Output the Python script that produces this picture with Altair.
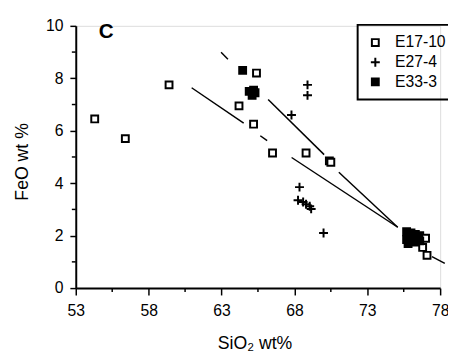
import altair as alt
import pandas as pd

# ---- data ----
e17_x = [54.3, 56.4, 59.4, 65.4, 64.2, 65.2, 66.5, 68.8, 70.4, 70.5, 76.6, 77.0, 76.8, 77.1]
e17_y = [6.45, 5.7, 7.75, 8.2, 6.95, 6.25, 5.15, 5.15, 4.85, 4.8, 2.0, 1.9, 1.55, 1.25]

e27_x = [68.9, 68.9, 67.8, 68.35, 68.25, 68.6, 68.8, 69.05, 69.15, 70.0]
e27_y = [7.75, 7.35, 6.6, 3.85, 3.35, 3.28, 3.2, 3.12, 3.02, 2.1]

e33_x = [64.45, 64.9, 65.2, 65.1, 65.3, 75.7, 76.0, 76.3, 76.5, 75.7, 76.0, 76.3, 75.8, 76.6]
e33_y = [8.3, 7.5, 7.55, 7.35, 7.45, 2.15, 2.1, 2.05, 1.95, 1.85, 1.8, 1.75, 1.7, 1.8]

series_names = ["E17-10", "E27-4", "E33-3"]

# mixing lines (segments, broken around symbols as in the original)
seg_x1 = [60.95, 65.66, 67.81, 62.97, 66.2, 71.05, 77.44]
seg_y1 = [7.64, 5.81, 4.98, 8.99, 7.19, 4.42, 1.20]
seg_x2 = [64.52, 66.13, 75.09, 63.44, 70.04, 75.09, 78.32]
seg_y2 = [6.29, 5.62, 2.32, 8.73, 5.09, 2.32, 0.94]

x_major = [53, 58, 63, 68, 73, 78]
x_minor = [55.5, 60.5, 65.5, 70.5, 75.5]
y_major = [0, 2, 4, 6, 8, 10]
y_minor = [1, 3, 5, 7, 9]

panel_label = ["C"]

# ---- tables ----
pts = pd.DataFrame({
    "x": e17_x + e27_x + e33_x,
    "y": e17_y + e27_y + e33_y,
    "s": [series_names[0]] * len(e17_x) + [series_names[1]] * len(e27_x) + [series_names[2]] * len(e33_x),
})
segs = pd.DataFrame({"x1": seg_x1, "y1": seg_y1, "x2": seg_x2, "y2": seg_y2})
xmin_df = pd.DataFrame({"v": x_minor})
ymin_df = pd.DataFrame({"v": y_minor})
lab_df = pd.DataFrame({"t": panel_label})

FONT = "Liberation Sans"
W, H = 371, 267

xscale = alt.Scale(domain=[53, 78], nice=False, zero=False)
yscale = alt.Scale(domain=[0, 10], nice=False, zero=False)

xaxis = alt.Axis(values=x_major, title="SiO₂ wt%", grid=False, domainColor="black",
                 domainWidth=2, tickColor="black", tickWidth=1.5, tickSize=7,
                 labelFont=FONT, labelFontSize=16, labelColor="black", labelPadding=8,
                 labelFlush=False, labelOverlap=False,
                 titleFont=FONT, titleFontSize=18, titleFontWeight="normal", titleColor="black",
                 titleX=182, titleY=62, titleBaseline="alphabetic", titleAlign="center")
yaxis = alt.Axis(values=y_major, title="FeO wt %", grid=False, domainColor="black",
                 domainWidth=2, tickColor="black", tickWidth=1.5, tickSize=6,
                 labelFont=FONT, labelFontSize=16, labelColor="black", labelPadding=7,
                 labelFlush=False, labelOverlap=False,
                 titleFont=FONT, titleFontSize=18, titleFontWeight="normal", titleColor="black",
                 titleX=-49, titleY=138, titleBaseline="alphabetic", titleAlign="center")

lines = alt.Chart(segs).mark_rule(color="black", strokeWidth=1.5).encode(
    x=alt.X("x1:Q", scale=xscale, axis=xaxis),
    y=alt.Y("y1:Q", scale=yscale, axis=yaxis),
    x2="x2:Q",
    y2="y2:Q",
)

leg = alt.Legend(title=None, orient="none", legendX=287, legendY=-1)
plus_path = "M-1.3,0H1.3M0,-1.3V1.3"
points = alt.Chart(pts).mark_point(opacity=1, fillOpacity=1, strokeWidth=2, size=49).encode(
    x=alt.X("x:Q", scale=xscale),
    y=alt.Y("y:Q", scale=yscale),
    shape=alt.Shape("s:N", scale=alt.Scale(domain=series_names, range=["square", plus_path, "square"]),
                    legend=leg),
    fill=alt.Fill("s:N", scale=alt.Scale(domain=series_names, range=["white", "transparent", "black"]),
                  legend=leg),
    stroke=alt.Stroke("s:N", scale=alt.Scale(domain=series_names, range=["black", "black", "black"]),
                      legend=leg),
)

ytick_minor = alt.Chart(ymin_df).mark_rule(color="black", strokeWidth=1.5).encode(
    y=alt.Y("v:Q", scale=yscale),
    x=alt.value(-4),
    x2=alt.value(0),
)
xtick_minor = alt.Chart(xmin_df).mark_rule(color="black", strokeWidth=1.5).encode(
    x=alt.X("v:Q", scale=xscale),
    y=alt.value(H),
    y2=alt.value(H + 4),
)

label = alt.Chart(lab_df).mark_text(font=FONT, fontSize=21, fontWeight="bold", color="black",
                                    align="center", baseline="middle").encode(
    text="t:N",
    x=alt.value(31),
    y=alt.value(6),
)

chart = alt.layer(lines, ytick_minor, xtick_minor, points, label).properties(
    width=W, height=H,
    autosize=alt.AutoSizeParams(type="none"),
    padding={"left": 69, "top": 15, "right": 8, "bottom": 68},
).configure_view(stroke=None).configure(background="white").configure_legend(
    strokeColor="black", strokeWidth=2, padding=10,
    labelFont=FONT, labelFontSize=16, labelColor="black",
    labelOffset=12, rowPadding=3, symbolSize=49,
    symbolStrokeWidth=2,
)

chart.save("out.html", embed_options={"renderer": "svg", "actions": False})
